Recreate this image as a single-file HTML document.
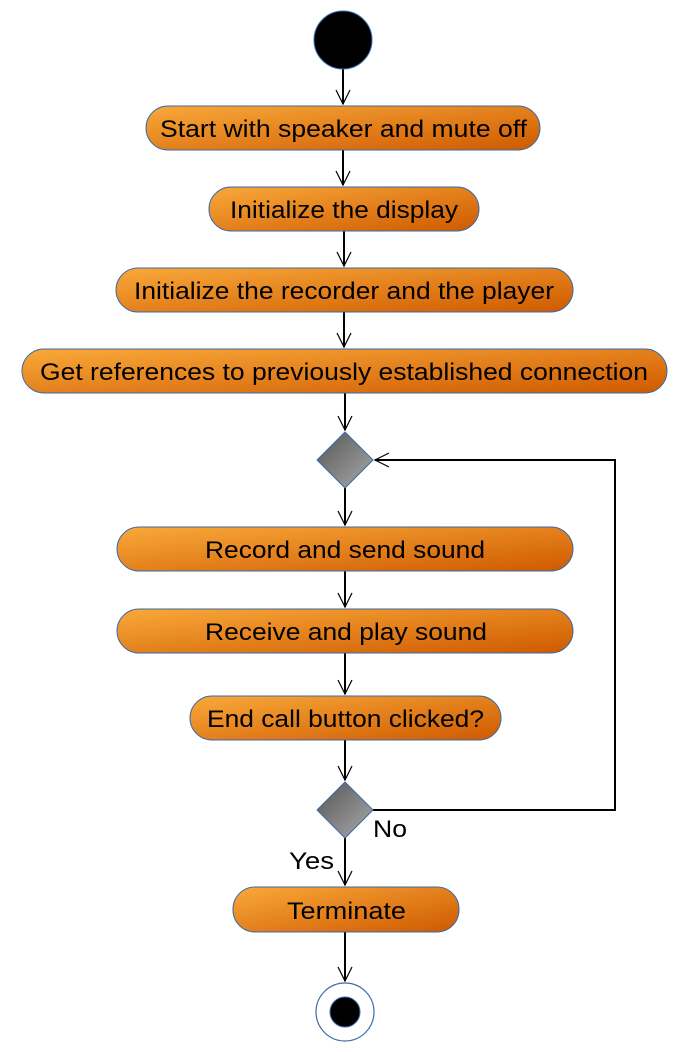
<!DOCTYPE html>
<html><head><style>body{margin:0;background:#fff}svg{display:block}</style></head><body>
<svg width="692" height="1052" viewBox="0 0 692 1052" xmlns="http://www.w3.org/2000/svg" font-family="Liberation Sans, sans-serif">
<defs>
<linearGradient id="g" x1="0" y1="0" x2="1" y2="1"><stop offset="0" stop-color="#f9a93a"/><stop offset="1" stop-color="#cf5a00"/></linearGradient>
<linearGradient id="d" x1="0" y1="0" x2="1" y2="1"><stop offset="0" stop-color="#555"/><stop offset="1" stop-color="#aaa"/></linearGradient>
</defs>
<g stroke="#000" stroke-width="2" fill="none">
<line x1="343" y1="69" x2="343" y2="104"/>
<line x1="343" y1="150" x2="343" y2="185"/>
<line x1="344" y1="231" x2="344" y2="266"/>
<line x1="344" y1="312" x2="344" y2="347"/>
<line x1="345" y1="393" x2="345" y2="430"/>
<line x1="345" y1="488" x2="345" y2="525"/>
<line x1="345" y1="571" x2="345" y2="607"/>
<line x1="345" y1="653" x2="345" y2="694"/>
<line x1="345" y1="740" x2="345" y2="780"/>
<line x1="345" y1="838" x2="345" y2="885"/>
<line x1="345" y1="932" x2="345" y2="981"/>
<polyline points="373,810 615,810 615,460 375,460"/>
</g>
<g stroke="#000" stroke-width="1.2" fill="none">
<polyline points="336,90 343,104 350,90"/>
<polyline points="336,171 343,185 350,171"/>
<polyline points="337,252 344,266 351,252"/>
<polyline points="337,333 344,347 351,333"/>
<polyline points="338,416 345,430 352,416"/>
<polyline points="338,511 345,525 352,511"/>
<polyline points="338,593 345,607 352,593"/>
<polyline points="338,680 345,694 352,680"/>
<polyline points="338,766 345,780 352,766"/>
<polyline points="338,871 345,885 352,871"/>
<polyline points="338,967 345,981 352,967"/>
<polyline points="389,453 375,460 389,467"/>
</g>
<circle cx="343" cy="40" r="29" fill="#000" stroke="#3a6aa8"/>
<circle cx="345" cy="1012" r="29" fill="#fff" stroke="#3a6aa8" stroke-width="1.2"/>
<circle cx="345" cy="1012" r="15" fill="#000" stroke="#3a6aa8"/>
<polygon points="345,432 373,460 345,488 317,460" fill="url(#d)" stroke="#3a6aa8"/>
<polygon points="345,782 373,810 345,838 317,810" fill="url(#d)" stroke="#3a6aa8"/>
<g fill="url(#g)" stroke="#3a6aa8">
<rect x="146" y="106" width="394" height="44" rx="22"/>
<rect x="209" y="187" width="270" height="44" rx="22"/>
<rect x="116" y="268" width="457" height="44" rx="22"/>
<rect x="22" y="349" width="645" height="44" rx="22"/>
<rect x="117" y="527" width="456" height="44" rx="22"/>
<rect x="117" y="609" width="456" height="44" rx="22"/>
<rect x="190" y="696" width="311" height="44" rx="22"/>
<rect x="233" y="887" width="226" height="45" rx="22"/>
</g>
<g font-size="24" fill="#000" lengthAdjust="spacingAndGlyphs">
<text x="160" y="137" textLength="367" lengthAdjust="spacingAndGlyphs">Start with speaker and mute off</text>
<text x="230" y="218" textLength="228" lengthAdjust="spacingAndGlyphs">Initialize the display</text>
<text x="134" y="299" textLength="420" lengthAdjust="spacingAndGlyphs">Initialize the recorder and the player</text>
<text x="40" y="380" textLength="608" lengthAdjust="spacingAndGlyphs">Get references to previously established connection</text>
<text x="205" y="558" textLength="280" lengthAdjust="spacingAndGlyphs">Record and send sound</text>
<text x="205" y="640" textLength="282" lengthAdjust="spacingAndGlyphs">Receive and play sound</text>
<text x="207" y="727" textLength="277" lengthAdjust="spacingAndGlyphs">End call button clicked?</text>
<text x="287" y="919" textLength="119" lengthAdjust="spacingAndGlyphs">Terminate</text>
<text x="373" y="837" textLength="34" lengthAdjust="spacingAndGlyphs">No</text>
<text x="289" y="869" textLength="45" lengthAdjust="spacingAndGlyphs">Yes</text>
</g>
</svg>
</body></html>
